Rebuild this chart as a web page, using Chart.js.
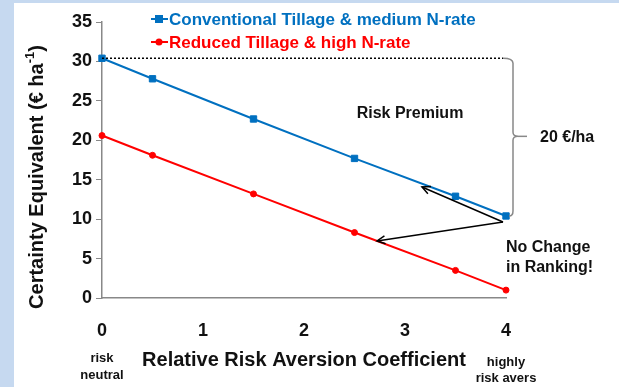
<!DOCTYPE html>
<html>
<head>
<meta charset="utf-8">
<script src="https://cdn.jsdelivr.net/npm/chart.js@4"></script>
<style>
  html, body { margin: 0; padding: 0; background: #fff; }
  #wrap { width: 619px; height: 387px; }
</style>
</head>
<body>
<div id="wrap"><canvas id="myChart" width="619" height="387"></canvas></div>
<script>
// Data
const raCoef = [0, 0.5, 1.5, 2.5, 3.5, 4];
const conventional = [30.4, 27.8, 22.7, 17.7, 12.9, 10.4];
const reduced = [20.6, 18.1, 13.2, 8.3, 3.5, 1.0];
const seriesNames = ['Conventional Tillage & medium N-rate', 'Reduced Tillage & high N-rate'];
const xTicks = [0, 1, 2, 3, 4];
const yTicks = [0, 5, 10, 15, 20, 25, 30, 35];

const BLUE = '#0070c0';
const RED = '#ff0000';
const FONT = '"Liberation Sans", Arial, sans-serif';

// extra drawing: side strip, legend, titles, annotations
const decor = {
  id: 'decor',
  beforeDraw(chart) {
    const c = chart.ctx;
    c.save();
    c.fillStyle = '#c6d9f0';
    c.fillRect(0, 0, 14, 387);
    c.fillRect(0, 0, 619, 3);
    c.restore();
  },
  afterDraw(chart) {
    const c = chart.ctx;
    const xs = chart.scales.x, ys = chart.scales.y;
    c.save();

    // legend
    const leg = [[BLUE, 'rect', seriesNames[0], 19], [RED, 'circle', seriesNames[1], 42]];
    leg.forEach(([col, shape, txt, y]) => {
      c.strokeStyle = col; c.fillStyle = col; c.lineWidth = 2;
      c.beginPath(); c.moveTo(151, y); c.lineTo(168, y); c.stroke();
      if (shape === 'rect') c.fillRect(155, y - 4, 8, 8);
      else { c.beginPath(); c.arc(159, y, 3.5, 0, Math.PI * 2); c.fill(); }
      c.font = 'bold 17px ' + FONT;
      c.textAlign = 'left'; c.textBaseline = 'middle';
      c.fillText(txt, 169, y + 1);
    });

    // dotted reference line at risk-neutral value
    const y0 = ys.getPixelForValue(conventional[0]);
    const x0 = xs.getPixelForValue(0);
    const x4 = xs.getPixelForValue(4);
    c.strokeStyle = '#000'; c.lineWidth = 1.5;
    c.setLineDash([2, 2]);
    c.beginPath(); c.moveTo(x0, y0); c.lineTo(x4 - 3, y0); c.stroke();
    c.setLineDash([]);

    // brace
    const yEnd = ys.getPixelForValue(conventional[5]);
    const bx = 513;
    const ym = ys.getPixelForValue(20.5);
    c.strokeStyle = '#888'; c.lineWidth = 1.5;
    c.beginPath();
    c.moveTo(x4 - 3, y0); c.quadraticCurveTo(bx, y0, bx, y0 + 5);
    c.lineTo(bx, ym - 4); c.quadraticCurveTo(bx, ym, bx + 5, ym);
    c.quadraticCurveTo(bx, ym, bx, ym + 4);
    c.lineTo(bx, yEnd - 5); c.quadraticCurveTo(bx, yEnd, x4 + 3, yEnd);
    c.stroke();
    c.beginPath(); c.moveTo(bx + 5, ym); c.lineTo(bx + 14, ym); c.stroke();

    c.fillStyle = '#111';
    c.textAlign = 'left'; c.textBaseline = 'middle';
    c.font = 'bold 16px ' + FONT;
    c.fillText('20 €/ha', 540, ym + 1);
    c.font = 'bold 16px ' + FONT;
    c.textAlign = 'center';
    c.fillText('Risk Premium', 410, 114);

    // arrows
    const ax = 503, ay = 222;
    function arrow(tx, ty) {
      c.strokeStyle = '#000'; c.lineWidth = 1.5;
      c.beginPath(); c.moveTo(ax, ay); c.lineTo(tx, ty); c.stroke();
      const a = Math.atan2(ty - ay, tx - ax);
      c.beginPath();
      c.moveTo(tx - 9 * Math.cos(a - 0.45), ty - 9 * Math.sin(a - 0.45));
      c.lineTo(tx, ty);
      c.lineTo(tx - 9 * Math.cos(a + 0.45), ty - 9 * Math.sin(a + 0.45));
      c.stroke();
    }
    arrow(422, 187);
    arrow(377, 241);

    c.font = 'bold 16px ' + FONT;
    c.textAlign = 'left';
    c.fillText('No Change', 506, 248);
    c.fillText('in Ranking!', 506, 268);

    // x axis notes
    c.font = 'bold 13px ' + FONT;
    c.textAlign = 'center';
    c.fillText('risk', x0, 358);
    c.fillText('neutral', x0, 375);
    c.fillText('highly', x4, 362);
    c.fillText('risk avers', x4, 378);

    // x title
    c.font = 'bold 20px ' + FONT;
    c.fillText('Relative Risk Aversion Coefficient', 304, 360);

    // y title with superscript
    c.translate(37, 177);
    c.rotate(-Math.PI / 2);
    const main = 'Certainty Equivalent (€ ha';
    c.font = 'bold 20px ' + FONT;
    const w1 = c.measureText(main).width;
    c.font = 'bold 13px ' + FONT;
    const w2 = c.measureText('-1').width;
    c.font = 'bold 20px ' + FONT;
    const w3 = c.measureText(')').width;
    let sx = -(w1 + w2 + w3) / 2;
    c.textAlign = 'left';
    c.fillText(main, sx, 0);
    c.font = 'bold 13px ' + FONT;
    c.fillText('-1', sx + w1, -7);
    c.font = 'bold 20px ' + FONT;
    c.fillText(')', sx + w1 + w2, 0);
    c.restore();
  }
};

const data = {
  datasets: [{
    label: seriesNames[0],
    data: raCoef.map((x, i) => ({ x: x, y: conventional[i] })),
    borderColor: BLUE,
    backgroundColor: BLUE,
    borderWidth: 2,
    pointStyle: 'rect',
    pointRadius: 4.5,
    pointBorderWidth: 1,
    pointHoverRadius: 4.5,
    clip: false
  }, {
    label: seriesNames[1],
    data: raCoef.map((x, i) => ({ x: x, y: reduced[i] })),
    borderColor: RED,
    backgroundColor: RED,
    borderWidth: 2,
    pointStyle: 'circle',
    pointRadius: 3,
    pointBorderWidth: 1,
    pointHoverRadius: 3,
    clip: false
  }]
};

const config = {
  type: 'line',
  data,
  plugins: [decor],
  options: {
    responsive: false,
    animation: false,
    events: [],
    layout: { padding: { left: 0, right: 113, top: 22, bottom: 0 } },
    plugins: { legend: { display: false }, tooltip: { enabled: false } },
    scales: {
      x: {
        type: 'linear',
        min: 0, max: 4,
        afterFit: s => { s.height = 89; },
        afterBuildTicks: s => { s.ticks = xTicks.map(v => ({ value: v })); },
        border: { color: '#888', width: 1.5 },
        grid: { display: false, drawOnChartArea: false, drawTicks: true, tickLength: 6, tickColor: '#888' },
        ticks: { color: '#111', padding: 16, font: { family: FONT, size: 18, weight: 'bold' } }
      },
      y: {
        min: 0, max: 35,
        afterFit: s => { s.width = 102; },
        afterBuildTicks: s => { s.ticks = yTicks.map(v => ({ value: v })); },
        border: { color: '#888', width: 1.5 },
        grid: { drawOnChartArea: false, drawTicks: true, tickLength: 6, tickColor: '#888' },
        ticks: { color: '#111', padding: 4, font: { family: FONT, size: 18, weight: 'bold' } }
      }
    }
  }
};

const myChart = new Chart(document.getElementById('myChart'), config);
</script>
</body>
</html>
